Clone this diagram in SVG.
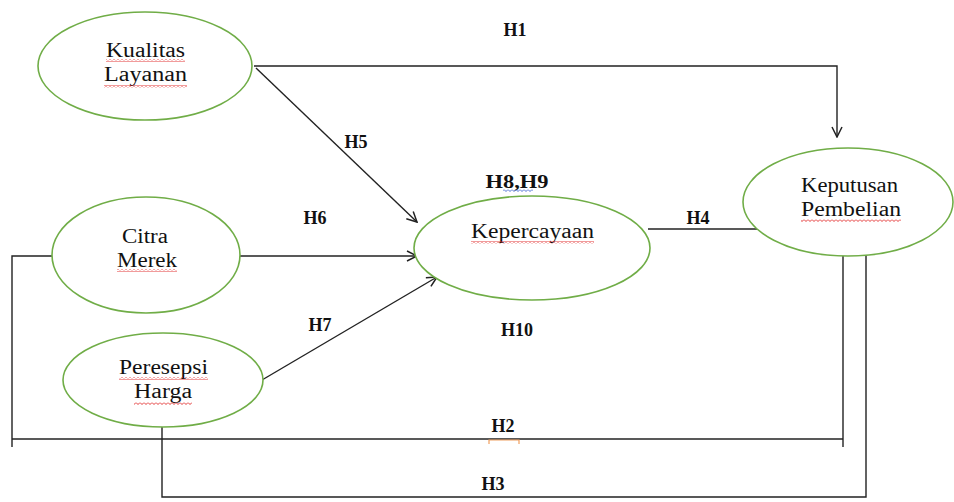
<svg xmlns="http://www.w3.org/2000/svg" width="954" height="502" viewBox="0 0 954 502">
<defs>
<style>
.node ellipse{fill:#fff;stroke:#70AD47;stroke-width:1.6}
.lbl{font-family:"Liberation Serif","Times New Roman",serif;font-size:20px;fill:#111}
.h{font-family:"Liberation Serif","Times New Roman",serif;font-size:18px;font-weight:bold;fill:#111}
.con{fill:none;stroke:#222;stroke-width:1.4}
</style>
<marker id="arr" viewBox="0 0 12 12" refX="11" refY="6" markerWidth="12" markerHeight="12" markerUnits="userSpaceOnUse" orient="auto">
<path d="M1,1 L11,6 L1,11" fill="none" stroke="#222" stroke-width="1.5"/>
</marker>
<pattern id="sqR" width="4" height="3" patternUnits="userSpaceOnUse">
<polyline points="0,0.5 2,2.5 4,0.5" fill="none" stroke="#E02020" stroke-width="0.9"/>
</pattern>
<pattern id="sqB" width="4" height="3" patternUnits="userSpaceOnUse">
<polyline points="0,0.5 2,2.5 4,0.5" fill="none" stroke="#3A5FD0" stroke-width="0.9"/>
</pattern>
</defs>
<rect width="954" height="502" fill="#fff"/>
<g id="connectors">
<polyline class="con" points="254,66 837,66 837,137" marker-end="url(#arr)"/>
<line class="con" x1="256" y1="68" x2="417" y2="222" marker-end="url(#arr)"/>
<line class="con" x1="239" y1="256" x2="417" y2="256" marker-end="url(#arr)"/>
<line class="con" x1="262" y1="380" x2="437" y2="277" marker-end="url(#arr)"/>
<line class="con" x1="648" y1="229" x2="758" y2="229"/>
<polyline class="con" points="52,256 12,256 12,447"/>
<polyline class="con" points="12,439 843,439"/>
<polyline class="con" points="843,252 843,447"/>
<polyline class="con" points="162,424 162,497 866,497 866,252"/>
<path d="M489,444 L489,440 L519,440 L519,444" fill="none" stroke="#F0A060" stroke-width="1.2"/>
</g>
<g id="kualitas" class="node">
<ellipse cx="145" cy="66" rx="107" ry="54"/>
<text class="lbl" x="106" y="57" textLength="79" lengthAdjust="spacingAndGlyphs">Kualitas</text>
<text class="lbl" x="104" y="81" textLength="83" lengthAdjust="spacingAndGlyphs">Layanan</text>
<rect x="106" y="59" width="79" height="3" fill="url(#sqR)"/>
<rect x="104" y="85" width="83" height="3" fill="url(#sqR)"/>
</g>
<g id="citra" class="node">
<ellipse cx="146" cy="255" rx="94" ry="58"/>
<text class="lbl" x="122" y="243" textLength="46" lengthAdjust="spacingAndGlyphs">Citra</text>
<text class="lbl" x="117" y="267" textLength="60" lengthAdjust="spacingAndGlyphs">Merek</text>
<rect x="117" y="269" width="60" height="3" fill="url(#sqR)"/>
</g>
<g id="peresepsi" class="node">
<ellipse cx="163" cy="380" rx="100" ry="47"/>
<text class="lbl" x="119" y="374" textLength="89" lengthAdjust="spacingAndGlyphs">Peresepsi</text>
<text class="lbl" x="134" y="398" textLength="58" lengthAdjust="spacingAndGlyphs">Harga</text>
<rect x="119" y="377" width="89" height="3" fill="url(#sqR)"/>
<rect x="134" y="402" width="58" height="3" fill="url(#sqR)"/>
</g>
<g id="kepercayaan" class="node">
<ellipse cx="532" cy="248" rx="118" ry="52"/>
<text class="lbl" x="471" y="238" textLength="123" lengthAdjust="spacingAndGlyphs">Kepercayaan</text>
<rect x="471" y="241" width="123" height="3" fill="url(#sqR)"/>
</g>
<g id="keputusan" class="node">
<ellipse cx="848" cy="202" rx="105" ry="54"/>
<text class="lbl" x="801" y="192" textLength="97" lengthAdjust="spacingAndGlyphs">Keputusan</text>
<text class="lbl" x="801" y="216" textLength="100" lengthAdjust="spacingAndGlyphs">Pembelian</text>
<rect x="801" y="219" width="100" height="3" fill="url(#sqR)"/>
</g>
<g id="labels">
<text class="h" x="515" y="36" text-anchor="middle">H1</text>
<text class="h" x="356" y="148" text-anchor="middle">H5</text>
<text class="h" x="517" y="188" text-anchor="middle" textLength="63" lengthAdjust="spacingAndGlyphs">H8,H9</text>
<rect x="503" y="189" width="30" height="3" fill="url(#sqB)"/>
<text class="h" x="315" y="224" text-anchor="middle">H6</text>
<text class="h" x="698" y="224" text-anchor="middle">H4</text>
<text class="h" x="320" y="331" text-anchor="middle">H7</text>
<text class="h" x="517" y="336" text-anchor="middle">H10</text>
<text class="h" x="503" y="432" text-anchor="middle">H2</text>
<text class="h" x="493" y="490" text-anchor="middle">H3</text>
</g>
</svg>
